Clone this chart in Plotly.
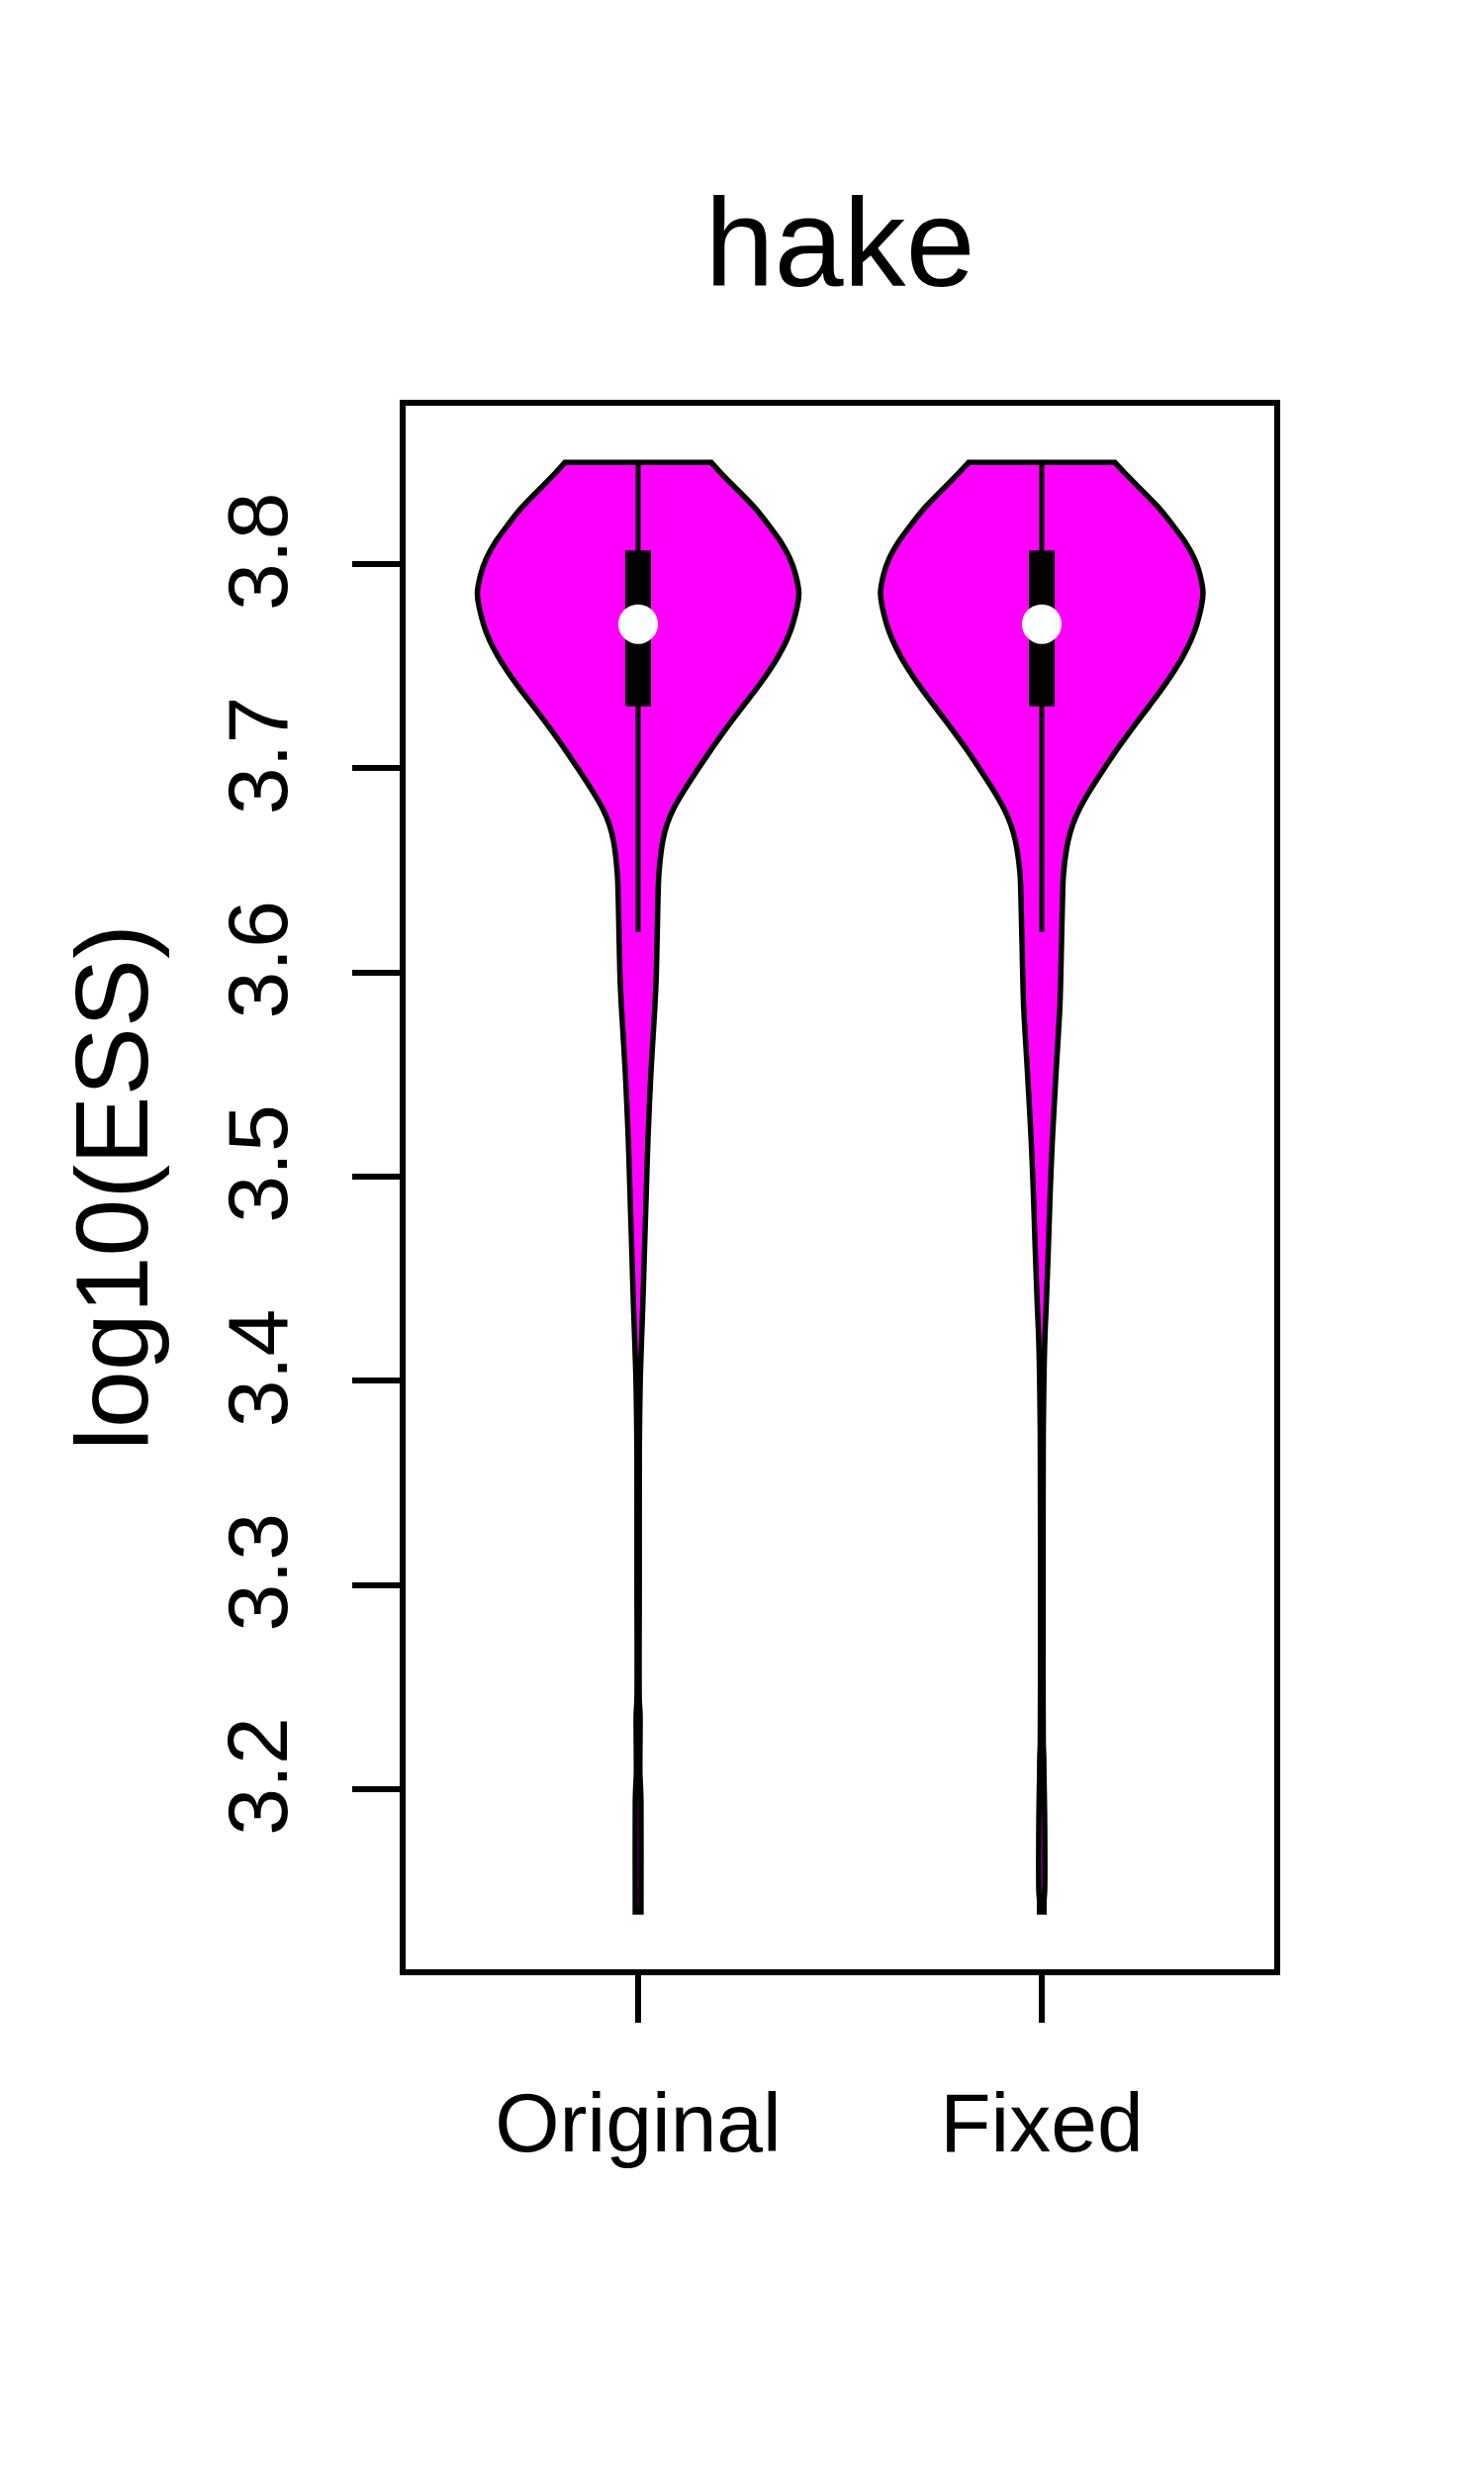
import plotly.graph_objects as go

# ---------------- data ----------------
categories = ["Original", "Fixed"]
title_text = "hake"
y_label = "log10(ESS)"
y_tick_vals = [3.2, 3.3, 3.4, 3.5, 3.6, 3.7, 3.8]
y_tick_text = ["3.2", "3.3", "3.4", "3.5", "3.6", "3.7", "3.8"]

# violin outline: y values (log10 ESS) and half-widths (x-axis units)
orig_y = [3.8498, 3.8436, 3.8276, 3.8194, 3.8111, 3.8032, 3.7952, 3.7855, 3.7709,
          3.7631, 3.7549, 3.7471, 3.7384, 3.7306, 3.7224, 3.7127, 3.7064, 3.6967,
          3.6885, 3.6803, 3.6725, 3.6643, 3.6483, 3.6318, 3.5998, 3.5833, 3.5513,
          3.5189, 3.4946, 3.4655, 3.4365, 3.4171, 3.4016, 3.3817, 3.3652, 3.3007,
          3.2440, 3.2363, 3.2077, 3.2005, 3.1931, 3.1432, 3.1398]
orig_w = [0.1814, 0.2100, 0.2892, 0.3223, 0.3529, 0.3750, 0.3897, 0.3983, 0.3837,
          0.3690, 0.3475, 0.3225, 0.2910, 0.2605, 0.2290, 0.1935, 0.1715, 0.1385,
          0.1120, 0.0880, 0.0715, 0.0610, 0.0515, 0.0487, 0.0452, 0.0415, 0.0318,
          0.0245, 0.0206, 0.0160, 0.0115, 0.0080, 0.0055, 0.0038, 0.0030, 0.0029,
          0.0029, 0.0049, 0.0044, 0.0061, 0.0071, 0.0071, 0.0071]

fixed_y = [3.8498, 3.8436, 3.8276, 3.8194, 3.8111, 3.8032, 3.7952, 3.7855, 3.7709,
           3.7631, 3.7549, 3.7471, 3.7384, 3.7306, 3.7224, 3.7127, 3.7064, 3.6967,
           3.6885, 3.6803, 3.6725, 3.6643, 3.6483, 3.6318, 3.5998, 3.5833, 3.5513,
           3.5189, 3.4946, 3.4655, 3.4365, 3.4234, 3.4089, 3.3943, 3.3735, 3.2765,
           3.2222, 3.2159, 3.2072, 3.1868, 3.1495, 3.1456, 3.1398]
fixed_w = [0.1814, 0.2108, 0.2900, 0.3235, 0.3545, 0.3770, 0.3915, 0.3995, 0.3850,
           0.3705, 0.3500, 0.3260, 0.2960, 0.2665, 0.2350, 0.1990, 0.1765, 0.1440,
           0.1175, 0.0940, 0.0770, 0.0652, 0.0539, 0.0510, 0.0473, 0.0449, 0.0355,
           0.0265, 0.0213, 0.0164, 0.0110, 0.0081, 0.0061, 0.0049, 0.0037, 0.0032,
           0.0037, 0.0049, 0.0054, 0.0071, 0.0071, 0.0056, 0.0056]

# box-plot summaries per group
q1 = [3.7308, 3.7308]
q3 = [3.8062, 3.8062]
medians = [3.7706, 3.7706]
lower_whisker = [3.6198, 3.6198]
upper_whisker = [3.8498, 3.8498]

# ---------------- figure ----------------
MAGENTA = "#FF00FF"
LW = 5.5
BOX_HALF = 0.0294

fig = go.Figure()
profiles = [(orig_y, orig_w), (fixed_y, fixed_w)]

for i, (ys, ws) in enumerate(profiles):
    c = i + 1
    left_x = [c - w for w in ws]
    right_x = [c + w for w in reversed(ws)]
    rys = list(reversed(ys))
    # repeat corner points so the smoothed outline keeps sharp corners
    xs = [left_x[0]] + left_x + [left_x[-1]] + [right_x[0]] + right_x + [right_x[-1], left_x[0]]
    yy = [ys[0]] + list(ys) + [ys[-1]] + [rys[0]] + rys + [rys[-1], ys[0]]
    fig.add_trace(go.Scatter(x=xs, y=yy, mode="lines", fill="toself",
                             fillcolor=MAGENTA,
                             line=dict(color="black", width=LW, shape="spline", smoothing=0.8),
                             hoverinfo="skip", showlegend=False))
    # whisker
    fig.add_trace(go.Scatter(x=[c, c], y=[lower_whisker[i], upper_whisker[i]],
                             mode="lines", line=dict(color="black", width=LW - 0.5),
                             hoverinfo="skip", showlegend=False))
    # box
    fig.add_trace(go.Scatter(x=[c - BOX_HALF, c + BOX_HALF, c + BOX_HALF, c - BOX_HALF, c - BOX_HALF],
                             y=[q1[i], q1[i], q3[i], q3[i], q1[i]],
                             mode="lines", fill="toself", fillcolor="black",
                             line=dict(color="black", width=2),
                             hoverinfo="skip", showlegend=False))
    # median
    fig.add_trace(go.Scatter(x=[c], y=[medians[i]], mode="markers",
                             marker=dict(color="white", size=40, line=dict(width=0)),
                             hoverinfo="skip", showlegend=False))

FONT = "Liberation Sans, Arial, sans-serif"

fig.update_layout(
    width=1500, height=2500,
    margin=dict(l=410, r=212, t=410, b=510),
    paper_bgcolor="white", plot_bgcolor="white",
    font=dict(family=FONT, color="black"),
    showlegend=False,
    title=dict(text=title_text, x=0.5660, xanchor="center",
               y=1 - 245 / 2500, yanchor="middle", yref="container",
               font=dict(family=FONT, size=126, color="black")),
    annotations=[dict(text=y_label, textangle=-90, xref="paper", yref="paper",
                      x=(113 - 410) / 878, y=0.5, xanchor="center", yanchor="middle",
                      showarrow=False, font=dict(family=FONT, size=104, color="black"))],
)

fig.update_xaxes(range=[0.424, 2.576], tickmode="array", tickvals=[1, 2],
                 ticktext=categories, ticks="outside", ticklen=48, tickwidth=LW,
                 tickcolor="black", showline=True, linecolor="black", linewidth=LW,
                 mirror=True, showgrid=False, zeroline=False,
                 tickfont=dict(family=FONT, size=84, color="black"),
                 ticklabelstandoff=29)
fig.update_yaxes(range=[3.1117, 3.8776], tickmode="array", tickvals=y_tick_vals,
                 ticktext=y_tick_text, ticks="outside", ticklen=48, tickwidth=LW,
                 tickcolor="black", showline=True, linecolor="black", linewidth=LW,
                 mirror=True, showgrid=False, zeroline=False, tickangle=-90,
                 tickfont=dict(family=FONT, size=86, color="black"),
                 ticklabelstandoff=32)

fig.write_html("out.html")
